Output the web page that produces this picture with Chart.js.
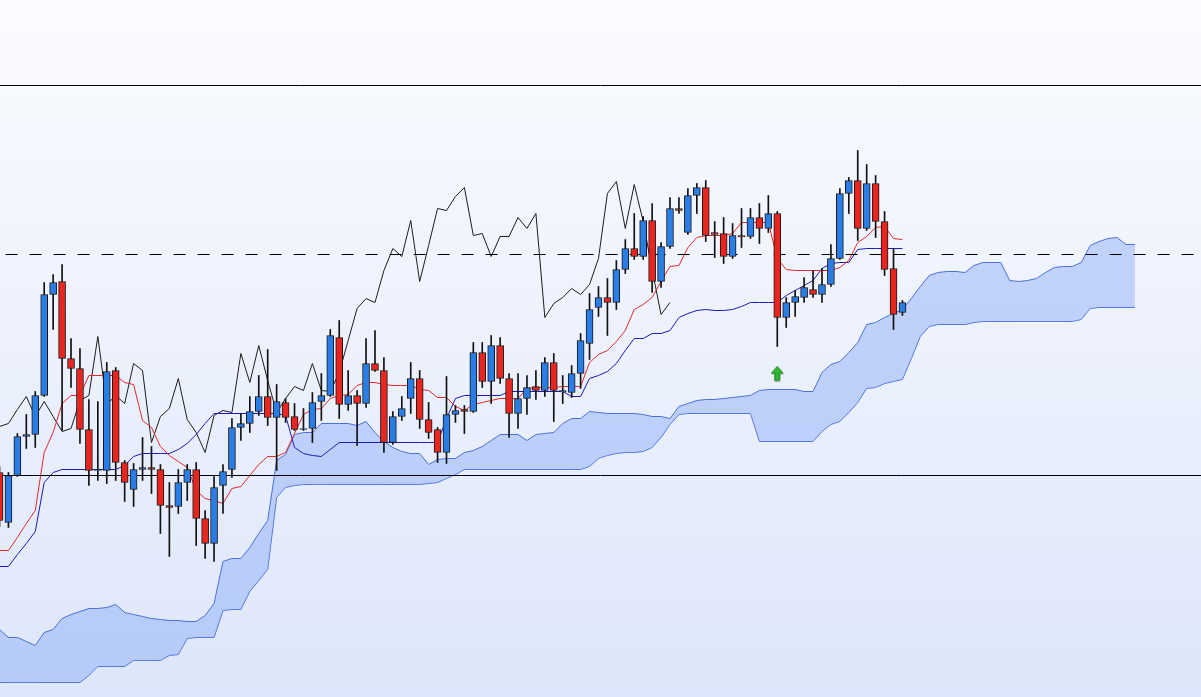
<!DOCTYPE html>
<html>
<head>
<meta charset="utf-8">
<script src="https://cdn.jsdelivr.net/npm/chart.js@4.4.1/dist/chart.umd.min.js"></script>
<style>
  html, body { margin: 0; padding: 0; }
  body { width: 1201px; height: 697px; overflow: hidden;
         background: linear-gradient(#fbfcff, #dde6fa); }
  #wrap { position: relative; width: 1201px; height: 697px; }
</style>
</head>
<body>
<div id="wrap"><canvas id="chart"></canvas></div>
<script>
// candles, one per period (price units)
const opens  = [228,178,225,264,266,305,406,419,342,332,271,230,230,330,238,211,231,233,231,195,194,218,231,182,157,215,
                231,273,277,289,304,283,298,284,271,272,299,305,363,296,305,297,337,330,258,284,302,322,281,271,248,286,
                291,289,348,319,355,322,287,302,314,310,338,308.5,308,327,357,393,403,398,431,452,444,480,419,454,492,468,
                505,513,468,467,444,465,464,483,472,487,383,398,403,411,406,416,442,507,520,472,517,479,432,388];
const highs  = [234,228,267,286,309,418,426,436,362,352,301,299,338,333,240,237,263,254,236,218,231,236,238,190,224,236,
                282,287,304,325,351,316,302,297,292,308,327,371,380,330,310,362,370,343,289,304,338,330,298,273,324,295,
                295,358,358,365,363,327,327,325,330,343,347,325,335,367,407,414,422,440,461,487,484,497,458,503,503,512,
                517,520,479,483,477,492,492,497,505,489,403,410,423,430,432,456,512,523,550,536,525,489,452,400];
const lows   = [174,173,224,252,253,304,371,270,313,257,215,220,217,220,199,194,220,207,167,144,187,200,155,142,139,187,
                223,260,268,285,275,230,278,270,270,258,280,304,282,290,255,293,329,248,256,280,287,272,262,238,237,278,
                267,288,313,297,317,263,272,286,301,304,279,297,303,312,341,384,365,391,427,441,441,408,413,452,487,466,
                487,459,443,437,442,453,462,457,468,354,373,384,398,403,398,414,441,487,460,470,463,425,371,385];
const closes = [180,225,264,266,305,406,418,342,332,271,230,231,329,238,218,231,233,231,195,193,218,231,182,157,213,229,
                273,277,289,304,283,299,283,271,272,298,305,365,296,305,297,337,330,258,284,292,322,281,268,248,286,290,
                289,348,319,355,322,287,302,313,310,338,310,310,327,360,391,403,398,431,452,444,480,419,454,492,490,505,
                513,465,466,444,465,463.5,483,472,487,383,398,404,413,406,416,442,507,520,472,517,479,431,386,398];

// ichimoku lines
const tenkan = [150,150,163,177,190,248,268,297,305,305,325,325,325,325,318,316,280,273,254,245,239,233,210,202,200,197,
                212,214,225,236,244,244,248,267,286,291,292,302,305,306,315,318,318,316,315,315,315,311,310,303,303,294,
                290,296,298,300,302,302,302,312,313,313,313,314,314,314,338,346,350,359,370,391,396,403,419,434,435,453,
                463,465,465,465,467,478,478,478,478,442,431,430,430,430,430,430,433,440,458,464,473,474,462,461];
const kijun  = [134,134,146,157,169,218,228,231,231,231,231,231,231,231,235,244,247,247,247,247,251,257,266,277,287,287,
                287,287,287,287,287,287,285,253,247,245,244,251,258,258,258,258,258,258,258,258,258,258,258,258,282,302,
                305,305,305,305,305,309,309,309,309,309,309,309,304,304,322,325,329,337,350,362,362,367,367,370,383,387,
                390,391,390,390,391,394,398,398,398,398,405,410,415,420,432,437,438,438,451,452,452,452,452,452];
const chikou = [274,277,291,304,284,299,284,269,272,300,305,364,296,305,297,337,330,258,284,292,322,281,268,248,285,290,
                288,347,318,355,320,288,302,314,310,337,310,309,328,360,392,402,398,430,452,444,480,419,455,492,490,504,
                513,465,467,444,464,464,483,472,487,383,397,403,412,406,416,442,507,519,472,516,479,431,386,398];

// kumo, drawn 26 periods ahead
const kumoTop = [71,63,63,59,55,68,71,82,86,89,92,92,93,96,88,86,84,82,81,80,80,79,79,85,97,139,142,142,153,167,180,240,
                 246,266,268,268,277,277,277,277,275,279,268,259,253,249,247,247,236,241,242,242,248,250,254,260,266,266,
                 266,260,266,267,268,277,282,282,289,288,287,287,287,287,286,284,284,282,294,297,300,301,301,302,303,304,
                 305,310,311,311,311,311,309,309,328,336,339,348,358,376,378,383,387,391,402,414,425,428,429,429,428,435,
                 438,438,438,420,419,420,422,428,433,434,434,438,455,459,462,463,456,456];
const kumoBottom = [18,18,18,18,18,18,18,18,18,18,25,34,34,34,34,40,40,40,40,45,46,62,63,63,63,90,91,91,109,120,131,203,
                 213,215,216,216,216,216,216,216,216,216,216,216,216,216,216,216,217,218,222,226,231,231,231,231,231,231,
                 231,231,231,231,231,231,231,231,234,242,245,247,248,248,249,253,263,276,286,287,287,287,287,287,287,287,
                 287,259,259,259,259,259,259,259,269,276,279,288,298,312,313,317,319,321,342,364,374,376,376,376,376,378,
                 379,379,379,379,379,379,379,379,379,379,379,381,392,393,393,393,393,393];

// price levels and signal
const levels = [615, 446, 225];
const signalIndex = 87;
const signalPrice = 327;

const BLUE = '#2b7de6';
const RED = '#e8261f';

function pts(arr) {
  return arr.map((v, i) => ({ x: i, y: v }));
}

const bodies = opens.map((o, i) => ({ x: i, y: [o, closes[i]] }));
const wicks = lows.map((l, i) => ({ x: i, y: [l, highs[i]] }));
const bodyColors = opens.map((o, i) => closes[i] >= o ? BLUE : RED);

// green up arrow for the signal marker
const arrow = document.createElement('canvas');
arrow.width = 14; arrow.height = 16;
(function () {
  const g = arrow.getContext('2d');
  g.beginPath();
  g.moveTo(7, 1); g.lineTo(13, 8); g.lineTo(9.5, 8); g.lineTo(9.5, 15);
  g.lineTo(4.5, 15); g.lineTo(4.5, 8); g.lineTo(1, 8); g.closePath();
  g.fillStyle = '#2eb82e';
  g.fill();
  g.strokeStyle = '#1d7a1d';
  g.lineWidth = 1;
  g.stroke();
})();

const lineBase = { type: 'line', pointRadius: 0, borderWidth: 1, tension: 0, fill: false };

const datasets = [
  Object.assign({}, lineBase, { data: pts(kumoTop), borderColor: '#4a70d8', order: 20,
    fill: '+1', backgroundColor: 'rgba(128,164,248,0.42)' }),
  Object.assign({}, lineBase, { data: pts(kumoBottom), borderColor: '#4a70d8', order: 20 }),
  Object.assign({}, lineBase, { data: pts(chikou), borderColor: '#1c1c1c', order: 10 }),
  Object.assign({}, lineBase, { data: pts(kijun), borderColor: '#1c1cb4', order: 9 }),
  Object.assign({}, lineBase, { data: pts(tenkan), borderColor: '#e2282a', order: 8 }),
  Object.assign({}, lineBase, { data: [{ x: -2, y: levels[0] }, { x: 140, y: levels[0] }], borderColor: '#000', order: 7 }),
  Object.assign({}, lineBase, { data: [{ x: -2, y: levels[1] }, { x: 140, y: levels[1] }], borderColor: '#000',
    borderDash: [12, 12], order: 7 }),
  Object.assign({}, lineBase, { data: [{ x: -2, y: levels[2] }, { x: 140, y: levels[2] }], borderColor: '#000', order: 7 }),
  { type: 'bar', data: wicks, backgroundColor: '#111', borderWidth: 0, barThickness: 1, grouped: false, order: 4 },
  { type: 'bar', data: bodies, backgroundColor: bodyColors, borderColor: '#161616', borderWidth: 1,
    borderSkipped: false, barThickness: 7, grouped: false, order: 3 },
  { type: 'scatter', data: [{ x: signalIndex, y: signalPrice }], pointStyle: arrow, pointRadius: 7, order: 1 }
];

new Chart(document.getElementById('chart'), {
  type: 'bar',
  data: { datasets: datasets },
  options: {
    responsive: true,
    maintainAspectRatio: false,
    animation: false,
    devicePixelRatio: 1,
    layout: { padding: 0, autoPadding: false },
    plugins: { legend: { display: false }, tooltip: { enabled: false } },
    events: [],
    scales: {
      // half-pixel shift keeps the 1px level lines crisp
      x: { type: 'linear', min: 0.056, max: 134.396, offset: false, display: false },
      y: { type: 'linear', min: 3.5, max: 700.5, display: false }
    }
  }
});
</script>
</body>
</html>
